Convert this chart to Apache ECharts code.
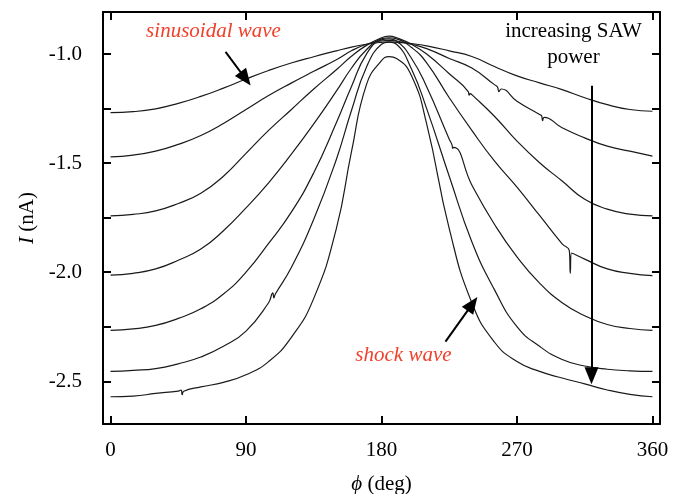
<!DOCTYPE html>
<html><head><meta charset="utf-8">
<script src="https://cdn.jsdelivr.net/npm/echarts@6/dist/echarts.min.js"></script>
<style>html,body{margin:0;padding:0;background:#fff}#c{width:675px;height:494px}</style>
</head><body><div id="c"></div>
<script>
// phase angle (deg)
const phi = [0,15,30,45,60,75,90,105,120,135,150,160,170,180,185,190,200,210,225,240,255,270,285,300,315,330,345,360];
// current curves I (nA), from lowest SAW power (sinusoidal) to highest (shock)
const c1 = [-1.268,-1.264,-1.251,-1.226,-1.194,-1.156,-1.114,-1.075,-1.041,-1.012,-0.985,-0.968,-0.955,-0.946,-0.944,-0.946,-0.952,-0.962,-0.985,-1.011,-1.057,-1.100,-1.132,-1.163,-1.200,-1.232,-1.254,-1.262];
const c2 = [-1.471,-1.463,-1.445,-1.414,-1.373,-1.318,-1.254,-1.190,-1.133,-1.079,-1.026,-0.985,-0.955,-0.940,-0.937,-0.940,-0.955,-0.975,-1.020,-1.064,-1.140,-1.216,-1.277,-1.338,-1.384,-1.422,-1.445,-1.468];
const c3 = [-1.742,-1.735,-1.719,-1.685,-1.638,-1.560,-1.455,-1.350,-1.255,-1.160,-1.072,-1.010,-0.960,-0.925,-0.918,-0.925,-0.955,-1.000,-1.090,-1.186,-1.285,-1.399,-1.498,-1.582,-1.666,-1.711,-1.734,-1.742];
const c4 = [-2.013,-2.005,-1.985,-1.945,-1.894,-1.810,-1.705,-1.590,-1.460,-1.320,-1.170,-1.065,-0.980,-0.930,-0.925,-0.930,-0.970,-1.040,-1.200,-1.350,-1.490,-1.610,-1.740,-1.870,-1.940,-1.985,-2.005,-2.016];
const c5 = [-2.267,-2.260,-2.244,-2.212,-2.168,-2.100,-2.000,-1.868,-1.726,-1.544,-1.315,-1.150,-1.000,-0.935,-0.930,-0.940,-1.020,-1.150,-1.390,-1.600,-1.780,-1.930,-2.050,-2.140,-2.200,-2.240,-2.258,-2.267];
const c6 = [-2.455,-2.450,-2.442,-2.420,-2.389,-2.340,-2.270,-2.140,-1.980,-1.757,-1.483,-1.260,-1.060,-0.955,-0.945,-0.955,-1.070,-1.250,-1.560,-1.860,-2.080,-2.250,-2.340,-2.400,-2.430,-2.445,-2.452,-2.455];
const c7 = [-2.571,-2.568,-2.556,-2.545,-2.526,-2.505,-2.470,-2.410,-2.300,-2.120,-1.800,-1.450,-1.140,-1.030,-1.012,-1.020,-1.100,-1.320,-1.800,-2.140,-2.320,-2.410,-2.455,-2.485,-2.512,-2.540,-2.560,-2.571];
// small measurement glitches visible on some traces [phi, I]
const g1 = [];
const g2 = [[257,-1.150],[258,-1.172],[259.5,-1.160],[286.3,-1.282],[287,-1.305],[288,-1.290]];
const g3 = [[237.6,-1.172],[238.2,-1.188],[238.9,-1.181]];
const g4 = [[304.8,-1.902],[305.4,-2.005],[306.2,-1.912]];
const g5 = [[226.8,-1.415],[227.3,-1.432],[227.9,-1.428]];
const g6 = [[107.8,-2.095],[108.5,-2.118],[109.5,-2.100]];
const g7 = [[46.8,-2.541],[47.6,-2.562],[48.6,-2.546]];
const curves = [c1,c2,c3,c4,c5,c6,c7];
const glitches = [g1,g2,g3,g4,g5,g6,g7];
const xTicks = [0,90,180,270,360];
const yTicks = [-2.5,-2.25,-2.0,-1.75,-1.5,-1.25,-1.0];
const yLabels = [-2.5,-2.0,-1.5,-1.0];
// annotation texts
const noteTexts = ['sinusoidal wave','shock wave','increasing SAW','power'];

const FONT = 'Liberation Serif';
const chart = echarts.init(document.getElementById('c'), null, {renderer:'canvas'});

const axLine = {show:true, onZero:false, lineStyle:{color:'#000', width:2}};
const tickStyle = {color:'#000', width:2};

function xAx(pos, labels){
  return {type:'value', min:-5, max:365, position:pos,
    axisLine:axLine,
    axisTick:{show:true, inside:true, length:8, customValues:xTicks, lineStyle:tickStyle},
    axisLabel:{show:labels, customValues:xTicks, fontFamily:FONT, fontSize:21, color:'#000', margin:16},
    splitLine:{show:false}};
}
function yAx(pos, labels){
  return {type:'value', min:-2.696, max:-0.807, position:pos,
    axisLine:axLine,
    axisTick:{show:true, inside:true, length:8, customValues:yTicks, lineStyle:tickStyle},
    axisLabel:{show:labels, customValues:yLabels, fontFamily:FONT, fontSize:21, color:'#000', margin:21,
      formatter:v=>Number(v).toFixed(1)},
    splitLine:{show:false}};
}
const xB = xAx('bottom', true);
xB.name = '{i|ϕ} (deg)';
xB.nameLocation = 'middle';
xB.nameGap = 50;
xB.nameTextStyle = {fontFamily:FONT, fontSize:21, color:'#000', rich:{i:{fontFamily:FONT, fontSize:21, fontStyle:'italic', color:'#000'}}};
const yL = yAx('left', true);
yL.name = '{i|I} (nA)';
yL.nameLocation = 'middle';
yL.nameGap = 58;
yL.nameTextStyle = {fontFamily:FONT, fontSize:21, color:'#000', rich:{i:{fontFamily:FONT, fontSize:21, fontStyle:'italic', color:'#000'}}};

const series = curves.map((c,k)=>{
  const pts = phi.map((p,i)=>[p,c[i]]).concat(glitches[k]);
  pts.sort((a,b)=>a[0]-b[0]);
  return {
    type:'line', xAxisIndex:0, yAxisIndex:0,
    data: pts,
    showSymbol:false, smooth:0.5,
    lineStyle:{color:'#1a1a1a', width:1.2}, silent:true
  };
});
series.push({
  type:'line', data:[], silent:true,
  markLine:{silent:true, animation:false, symbol:['none','triangle'], symbolSize:[14,17],
    label:{show:false}, lineStyle:{color:'#000', width:2, type:'solid'},
    emphasis:{disabled:true},
    data:[
      [{coord:[76.4,-0.990]},{coord:[89.7,-1.113]}],
      [{coord:[222.5,-2.318]},{coord:[240.4,-2.145]}],
      [{coord:[319.5,-1.145]},{coord:[319.5,-2.475]}]
    ]}
});

chart.setOption({
  animation:false,
  backgroundColor:'#fff',
  grid:{left:103, right:15, top:12, bottom:70, containLabel:false, outerBoundsMode:'none'},
  xAxis:[xB, xAx('top', false)],
  yAxis:[yL, yAx('right', false)],
  series:series
});

const notePos = [[68.4,-0.898],[194.6,-2.383],[307.5,-0.898],[307.5,-1.017]];
const noteStyle = [
  {fill:'#f0402a', fontStyle:'italic'},
  {fill:'#f0402a', fontStyle:'italic'},
  {fill:'#000', fontStyle:'normal'},
  {fill:'#000', fontStyle:'normal'}
];
const graphics = noteTexts.map((t,i)=>{
  const p = chart.convertToPixel({gridIndex:0}, notePos[i]);
  return {type:'text', x:p[0], y:p[1], silent:true,
    style:{text:t, fontFamily:FONT, fontSize:21, fontStyle:noteStyle[i].fontStyle, fill:noteStyle[i].fill, align:'center', verticalAlign:'middle'}};
});
chart.setOption({graphic:graphics});
</script></body></html>
